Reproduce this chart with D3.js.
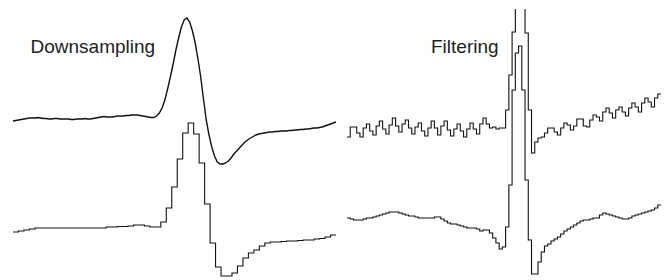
<!DOCTYPE html>
<html>
<head>
<meta charset="utf-8">
<script src="https://cdn.jsdelivr.net/npm/d3@7"></script>
<style>
  body { margin: 0; background: #fff; }
</style>
</head>
<body>
<div id="chart"></div>
<script>
// data (amplitudes, arbitrary units)
const panelTitles = ['Downsampling', 'Filtering'];

// left panel: original signal and the downsampled one
const original = [
  -2, -1.5, -1, -0.5, 0, 0.5, 1, 1, 1, 1.5,
  1, 0.5, 0.5, 0, 0, 0.5, 0.5, 0, 0, 0,
  0, -0.5, -0.5, 0, 0, 0, 0.5, 0, 0, 0.5,
  1, 1.5, 2, 2.5, 2, 2, 2, 2.5, 3, 3,
  3, 3.5, 3.5, 4, 4, 4, 3.5, 3, 2.5, 2,
  1.5, 1.5, 3, 6, 11, 19, 30, 42, 55, 69,
  81, 92, 99, 101, 97, 88, 76, 60, 42, 20,
  -1, -16, -28, -37, -43, -45, -45, -44, -42, -39,
  -35, -32, -29, -26, -23, -21, -19, -17.5, -16, -15,
  -14.5, -14, -13.5, -13, -13, -12.5, -12.5, -12, -12, -12,
  -11.5, -11.5, -11, -11, -10.5, -10.5, -10, -10, -9.5, -9,
  -9, -8.5, -8, -7, -6, -5, -4, -3
];
const downsampled = [
  -2, -1, 0, 1, 2, 2, 2, 2, 2, 2,
  2, 2, 2, 2, 2, 2, 2, 3, 3, 3.5,
  3.5, 4, 5, 5, 4, 3, 3, 8, 22, 43,
  71, 97, 107, 96, 67, 26, -13, -37, -46, -46,
  -43, -36, -28, -23, -20, -16, -13, -12, -12, -11.5,
  -11, -11, -10.5, -10, -10, -9, -8.5, -7, -5
];

// right panel: noisy signal and the filtered one
const noisy = [
  -7, 3, 3, -3, -7, 2, 6, -1, -5, 4,
  9, 1, -4, 5, 12, 4, -2, 6, 10, 2,
  -4, 3, 7, -1, -6, 2, 9, 2, -5, 4,
  9, 0, -6, 1, 6, -1, -7, 1, 7, 1,
  -4, 6, 12, 6, 2, 3, 1, 2,
  2, 20, 55, 98, 210, 210, 210, 97, 20, -23,
  -12, -8, -7, -3, 2, 2, -2, -5, 2, 7,
  5, 0, 4, 11, 11, 4, 3, 10, 15, 13,
  9, 18, 22, 17, 12, 20, 23, 18, 14, 22,
  27, 23, 18, 27, 32, 28, 23, 32, 36
];
const filtered = [
  0, -1, -2, -2, -2, -1, 0, 0, 1, 2,
  3, 4, 5, 6, 6, 6, 5, 4, 3, 2,
  2, 1, 0, 0, 0, 0, 0, 1, 1, -1,
  -3, -5, -6, -6, -7, -8, -9, -10, -10, -10,
  -11, -13, -12, -12, -15, -20, -25, -31,
  -29, -9, 33, 128, 165, 172, 128, 38, -22, -56,
  -56, -44, -34, -28, -26, -23, -21, -19, -16, -13,
  -11, -9, -7, -5, -3, -2, -2, -1, 0, 0,
  3, 5, 4, 3, 2, 1, 0, -1, -1, 0,
  2, 3, 4, 5, 6, 7, 8, 10, 13
];

// const
const width = 667;
const height = 280;

const panels = [
  { title: panelTitles[0], tx: 30.5, x0: 13, x1: 336,
    traces: [
      { values: original, base: 119, w: 1.4, smooth: true },
      { values: downsampled, base: 230, w: 1.1 }
    ] },
  { title: panelTitles[1], tx: 431, x0: 347, x1: 661,
    traces: [
      { values: noisy, base: 130, w: 1.1 },
      { values: filtered, base: 218, w: 1.1 }
    ] }
];

// svg
const svg = d3.select('#chart')
  .append('svg')
  .attr('width', width)
  .attr('height', height)
  .attr('style', 'font-family: "Liberation Sans", Arial, sans-serif');

svg.append('clipPath')
  .attr('id', 'clip')
  .append('rect')
  .attr('x', 0)
  .attr('y', 9)
  .attr('width', width)
  .attr('height', height - 9);

// amplitude -> pixels up from a trace's baseline
const amp = d3.scaleLinear().domain([0, 100]).range([0, -100]);

panels.forEach(p => {
  p.traces.forEach(t => {
    const n = t.values.length;
    const vals = t.smooth ? t.values : t.values.concat([t.values[n - 1]]);
    const x = d3.scaleLinear()
      .domain([0, t.smooth ? n - 1 : n])
      .range([p.x0, p.x1]);
    const line = d3.line()
      .x((d, i) => x(i))
      .y(d => t.base + amp(d))
      .curve(t.smooth ? d3.curveLinear : d3.curveStepAfter);
    svg.append('path')
      .datum(vals)
      .attr('clip-path', 'url(#clip)')
      .attr('fill', 'none')
      .attr('stroke', '#111')
      .attr('stroke-width', t.w)
      .attr('d', line);
  });

  svg.append('text')
    .attr('x', p.tx)
    .attr('y', 53)
    .attr('font-size', 19)
    .attr('fill', '#222')
    .text(p.title);
});
</script>
</body>
</html>
